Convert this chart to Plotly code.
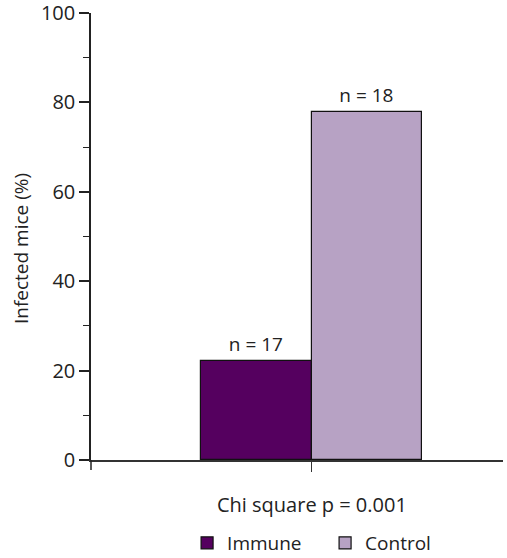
import plotly.graph_objects as go

category = ["Chi square p = 0.001"]
groups = ["Immune", "Control"]
infected_pct = [22.2, 77.8]
n_labels = ["n = 17", "n = 18"]
colors = ["#55005f", "#b7a2c4"]
y_ticks = [0, 20, 40, 60, 80, 100]
y_title = "Infected mice (%)"

font_family = "Open Sans, Noto Sans, DejaVu Sans, sans-serif"
txt = "#222222"

fig = go.Figure()
for g, v, lab, c in zip(groups, infected_pct, n_labels, colors):
    fig.add_trace(go.Bar(
        x=category, y=[v], name=g, text=[lab],
        textposition="outside", cliponaxis=False,
        textfont=dict(size=19, color=txt, family=font_family),
        marker=dict(color=c, line=dict(color="#111111", width=1.2)),
    ))

fig.update_layout(
    width=507, height=558,
    margin=dict(l=91, r=4, t=13, b=98),
    plot_bgcolor="white", paper_bgcolor="white",
    barmode="group", bargap=0, bargroupgap=0,
    font=dict(family=font_family, size=19, color=txt),
    showlegend=True,
    legend=dict(orientation="h", xref="container", yref="container",
                x=0.369, xanchor="left", y=1 - 543 / 558, yanchor="middle",
                entrywidth=93, entrywidthmode="pixels",
                font=dict(size=19, color=txt), itemwidth=30, traceorder="normal"),
)
fig.update_xaxes(
    type="category", range=[-1.0, 0.865], automargin=False,
    showline=True, linecolor="#333333", linewidth=1.5,
    ticks="outside", ticklen=10, tickwidth=1.2, tickcolor="#333333",
    ticklabelstandoff=16, tickfont=dict(size=20, color=txt),
    showgrid=False, zeroline=False,
)
fig.update_yaxes(
    range=[0, 100], tickvals=y_ticks, automargin=False, ticklabeloverflow="allow",
    showline=True, linecolor="#222222", linewidth=1.5,
    ticks="outside", ticklen=10, tickwidth=1.5, tickcolor="#222222",
    tickfont=dict(size=20, color=txt),
    minor=dict(dtick=10, ticks="outside", ticklen=6, tickwidth=1.2, tickcolor="#222222"),
    showgrid=False, zeroline=False,
)
fig.add_annotation(text=y_title, textangle=-90, showarrow=False,
                   xref="paper", yref="paper", x=-0.17, y=0.474,
                   xanchor="center", yanchor="middle",
                   font=dict(size=19, color=txt))
# extend y axis line a bit below the x axis
fig.add_shape(type="line", xref="paper", yref="paper", x0=0, x1=0, y0=0, y1=-10/447,
              line=dict(color="#222222", width=1.5))

fig.write_html("out.html", config={"displayModeBar": False},
               post_script="document.body.style.margin='0';document.body.style.overflow='hidden';")
